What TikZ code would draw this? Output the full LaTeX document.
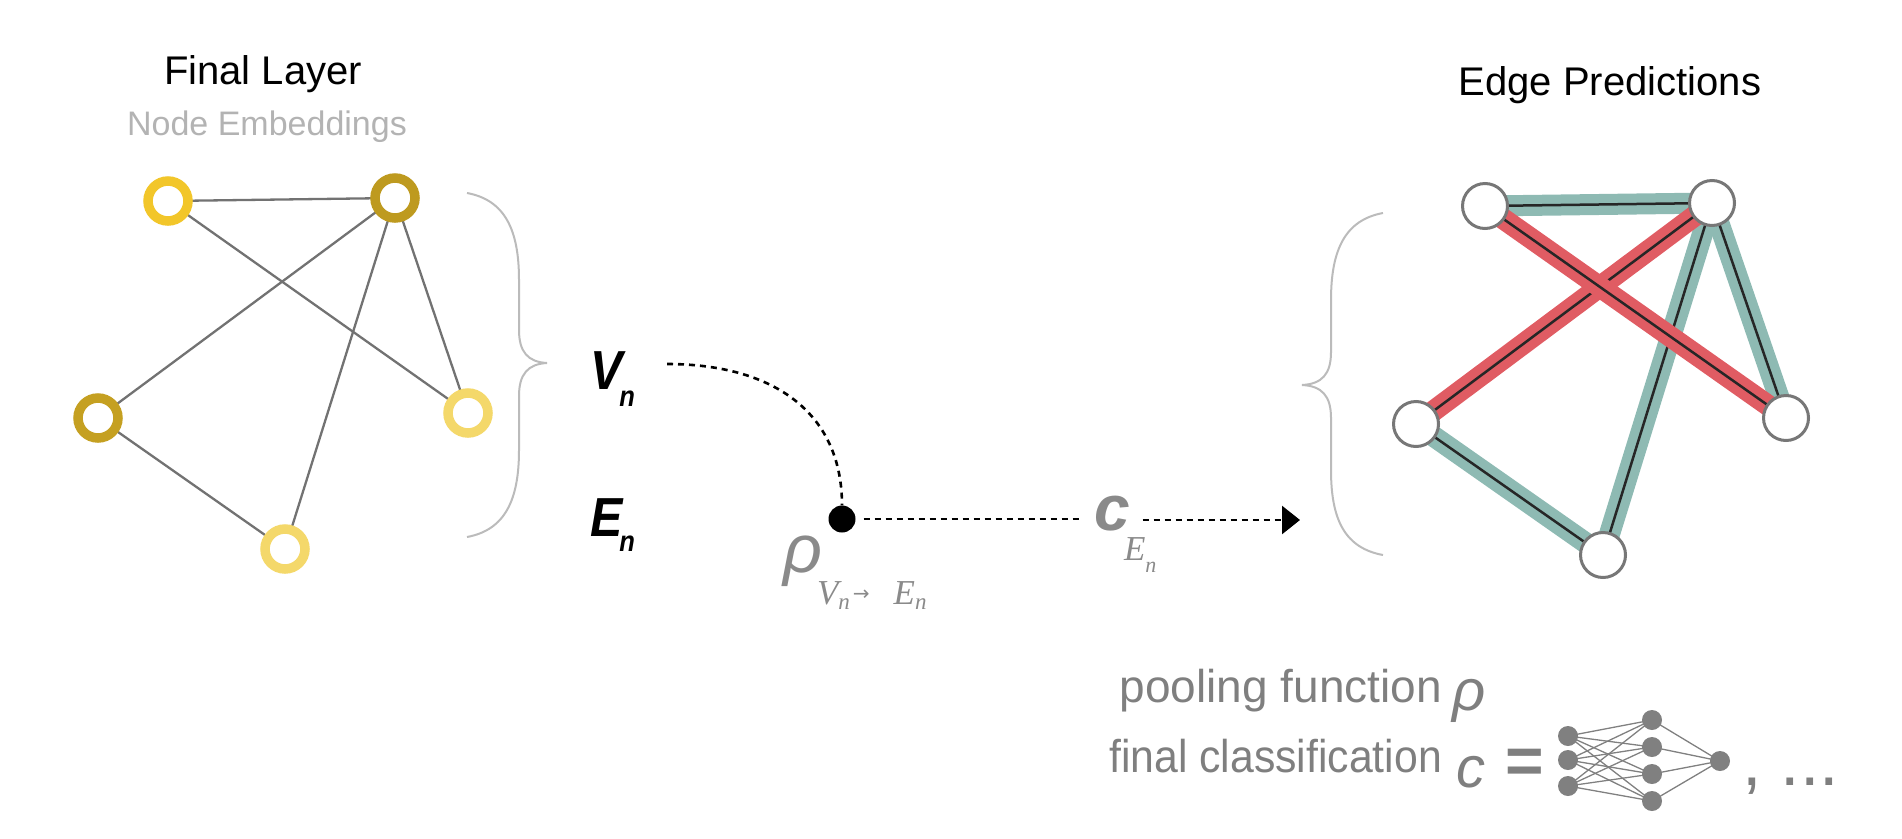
\documentclass[tikz,border=0pt]{standalone}
\usepackage{fontspec}
\usepackage{graphicx}
\setmainfont{Liberation Sans}
\newfontfamily\serfont{Liberation Serif}
\newfontfamily\narrowsans{Liberation Sans}[FakeStretch=0.88]
\newfontfamily\djv{DejaVu Sans}
\usetikzlibrary{arrows.meta}
\newcommand\fsz[1]{\fontsize{#1}{#1}\selectfont}
\definecolor{goldA}{HTML}{F2C62A}
\definecolor{goldB}{HTML}{BE9A1F}
\definecolor{goldC}{HTML}{C5A021}
\definecolor{goldD}{HTML}{F4D86A}
\definecolor{edgegray}{HTML}{727272}
\definecolor{bracegray}{HTML}{BBBBBB}
\definecolor{subtitlegray}{HTML}{B3B3B3}
\definecolor{textgray}{HTML}{7F7F7F}
\definecolor{midgray}{HTML}{8A8A8A}
\definecolor{nodegray}{HTML}{777777}
\definecolor{tealband}{HTML}{8EBAB3}
\definecolor{redband}{HTML}{E05C63}
\definecolor{nngray}{HTML}{808080}
\pgfdeclarelayer{bg}
\pgfsetlayers{bg,main}
\begin{document}
\begin{tikzpicture}[x=1pt,y=-1pt,
  txt/.style={inner sep=0pt, outer sep=0pt},
  ring/.style={circle, inner sep=0pt, minimum size=40pt, line width=9.5pt, fill=white},
  gedge/.style={draw=edgegray, line width=2.3pt},
  bracepath/.style={draw=bracegray, line width=2pt},
  wnode/.style={circle, inner sep=0pt, minimum size=45pt, line width=3pt, draw=nodegray, fill=white},
  tband/.style={draw=tealband, line width=21pt},
  rband/.style={draw=redband, line width=21pt},
  core/.style={draw=black!85, line width=2.5pt},
  dashline/.style={line width=2.6pt, dash pattern=on 6pt off 5pt},
  nn/.style={circle, fill=nngray, inner sep=0pt, minimum size=20pt},
  nnedge/.style={draw=nngray, line width=1.3pt}]
\useasboundingbox (0,0) rectangle (1902,838);

% ---------- titles ----------
\node[txt, anchor=base, font=\fsz{40}] (fl) at (263,84) {Final Layer};
\node[txt, anchor=base, font=\fsz{34}, text=subtitlegray] (ne) at (267,135) {Node Embeddings};
\node[txt, anchor=base, font=\fsz{40}] (ep) at (1610,95) {Edge Predictions};

% ---------- left graph ----------
\node[ring, draw=goldA] (a) at (168,201) {};
\node[ring, draw=goldB] (b) at (395,198) {};
\node[ring, draw=goldC] (c) at (98,418) {};
\node[ring, draw=goldD] (d) at (468,413) {};
\node[ring, draw=goldD] (e) at (285,549) {};
\begin{pgfonlayer}{bg}
\draw[gedge] (a.center) -- (b.center);
\draw[gedge] (a.center) -- (d.center);
\draw[gedge] (b.center) -- (c.center);
\draw[gedge] (b.center) -- (d.center);
\draw[gedge] (b.center) -- (e.center);
\draw[gedge] (c.center) -- (e.center);
\end{pgfonlayer}

% left brace
\draw[bracepath] (467,193) .. controls (505,200) and (519,230) .. (519,280)
  -- (519,330) .. controls (519,352) and (528,362) .. (547,363)
  .. controls (528,364) and (519,374) .. (519,396)
  -- (519,450) .. controls (519,500) and (505,530) .. (467,537);

% ---------- V_n, E_n ----------
\node[txt, anchor=base west] (vn) at (590,389)
  {\narrowsans\bfseries\itshape\fsz{55}V\kern-3pt\raisebox{-17pt}{\fsz{29}n}};
\node[txt, anchor=base west] (en) at (590,536)
  {\narrowsans\bfseries\itshape\fsz{55}E\kern-3pt\raisebox{-15pt}{\fsz{29}n}};

% ---------- pooling ----------
\node[circle, fill=black, inner sep=0pt, minimum size=27pt] (pool) at (842,519) {};
\coordinate (vstart) at (667,364);
\draw[dashline] (vstart) .. controls (770,364) and (842,410) .. (pool.north);

\node[txt, anchor=base west, text=midgray] (rho) at (783,572)
  {\itshape\fsz{68}ρ};
\node[txt, anchor=base west, text=midgray] (rhosub) at (817,604)
  {\serfont\itshape\fsz{35}V\raisebox{-5pt}{\fsz{23}n}\hspace{3pt}\raisebox{4pt}{\djv\upshape\fsz{20}→}\hspace{24pt}E\raisebox{-5pt}{\fsz{23}n}};

% c_E
\node[txt, anchor=base west, inner xsep=13pt, text=midgray] (cE) at (1081,530)
  {\bfseries\itshape\fsz{64}c};
\node[txt, anchor=base west, text=midgray] (cEsub) at (1124,560)
  {\serfont\itshape\fsz{35}E\raisebox{-12pt}{\fsz{22}n}};
\coordinate (tgt) at (1300,520);
\draw[dashline, shorten <=8pt] (pool) -- (pool -| cE.west);
\draw[dashline, -{Triangle[length=18pt,width=28pt]}] (cE.east |- tgt) -- (tgt);

% right brace
\draw[bracepath] (1383,213) .. controls (1345,220) and (1331,250) .. (1331,300)
  -- (1331,352) .. controls (1331,374) and (1322,384) .. (1302,385)
  .. controls (1322,386) and (1331,396) .. (1331,418)
  -- (1331,470) .. controls (1331,520) and (1345,548) .. (1383,555);

% ---------- right graph ----------
\node[wnode] (ra) at (1485,206) {};
\node[wnode] (rb) at (1712,203) {};
\node[wnode] (rc) at (1416,424) {};
\node[wnode] (rd) at (1786,418) {};
\node[wnode] (re) at (1603,555) {};
\begin{pgfonlayer}{bg}
\draw[tband] (ra.center) -- (rb.center);
\draw[core]  (ra.center) -- (rb.center);
\draw[tband] (rb.center) -- (rd.center);
\draw[core]  (rb.center) -- (rd.center);
\draw[tband] (rb.center) -- (re.center);
\draw[core]  (rb.center) -- (re.center);
\draw[tband] (rc.center) -- (re.center);
\draw[core]  (rc.center) -- (re.center);
\draw[rband] (rb.center) -- (rc.center);
\draw[core]  (rb.center) -- (rc.center);
\draw[rband] (ra.center) -- (rd.center);
\draw[core]  (ra.center) -- (rd.center);
\end{pgfonlayer}

% ---------- legend ----------
\node[txt, anchor=base east, text=textgray, font=\fsz{46}] (pf) at (1442,702) {pooling function};
\node[txt, anchor=base east, text=textgray, font=\fsz{46}] (fc) at (1442,772) {\scalebox{0.93}[1]{final classification}};
\node[txt, anchor=base west, text=textgray] (rho2) at (1452,710) {\itshape\fsz{58}ρ};
\node[txt, anchor=base west, text=textgray] (c2) at (1456,787) {\itshape\fsz{58}c};
\node[txt, anchor=base west, text=textgray] (eq) at (1505,783) {\bfseries\fsz{66}=};

\node[nn] (i1) at (1568,736) {};
\node[nn] (i2) at (1568,760) {};
\node[nn] (i3) at (1568,786) {};
\node[nn] (h1) at (1652,720) {};
\node[nn] (h2) at (1652,747) {};
\node[nn] (h3) at (1652,774) {};
\node[nn] (h4) at (1652,801) {};
\node[nn] (o1) at (1720,761) {};
\begin{pgfonlayer}{bg}
\foreach \i in {i1,i2,i3}{\foreach \h in {h1,h2,h3,h4}{\draw[nnedge] (\i.center) -- (\h.center);}}
\foreach \h in {h1,h2,h3,h4}{\draw[nnedge] (\h.center) -- (o1.center);}
\end{pgfonlayer}
\node[txt, anchor=base west, text=textgray] (etc) at (1742,785) {\fsz{70}, ...};
\end{tikzpicture}
\end{document}
